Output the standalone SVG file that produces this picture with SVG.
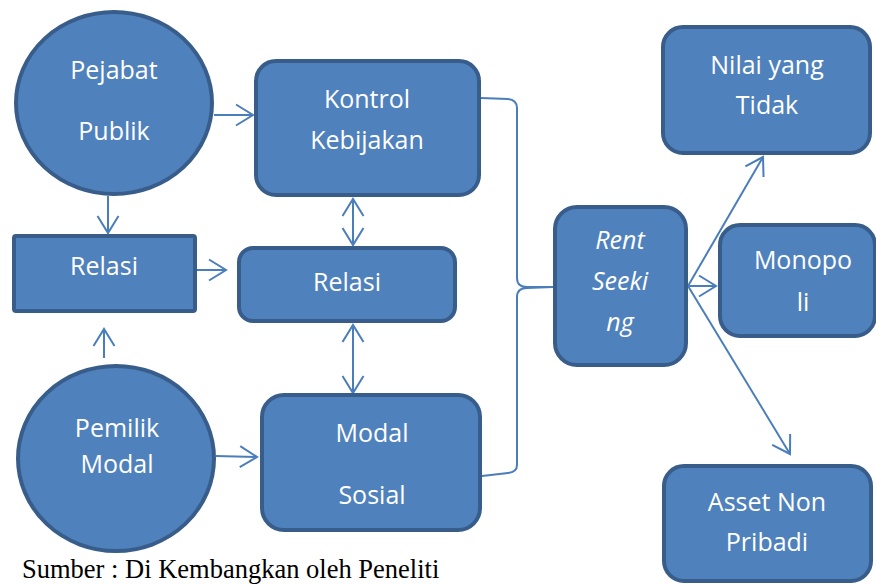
<svg xmlns="http://www.w3.org/2000/svg" width="876" height="585" viewBox="0 0 876 585">
<defs>
<style>
.n{fill:#4F81BD;stroke:#385D8A;stroke-width:4}
.t{fill:#FFFFFF;font-family:"Open Sans","Noto Sans","DejaVu Sans",sans-serif;font-size:25px;text-anchor:middle}
.i{font-style:italic}
.c{fill:none;stroke:#4A7EBB;stroke-width:2}
.cap{fill:#000;font-family:"Liberation Serif","Times New Roman",serif;font-size:26.5px}
</style>
<marker id="ah" markerUnits="userSpaceOnUse" markerWidth="24" markerHeight="24" viewBox="-20 -12 24 24" refX="0" refY="0" orient="auto-start-reverse">
<path d="M-17,-10.5 L0,0 L-17,10.5" fill="none" stroke="#4A7EBB" stroke-width="2"/>
</marker>
</defs>
<rect width="876" height="585" fill="#FFFFFF"/>
<g id="connectors">
<line class="c" x1="214" y1="115" x2="253" y2="115" marker-end="url(#ah)"/>
<line class="c" x1="108" y1="196" x2="108" y2="233" marker-end="url(#ah)"/>
<line class="c" x1="197" y1="270" x2="226" y2="270" marker-end="url(#ah)"/>
<line class="c" x1="104" y1="358" x2="104" y2="329" marker-end="url(#ah)"/>
<line class="c" x1="216" y1="456" x2="257" y2="457" marker-end="url(#ah)"/>
<line class="c" x1="353" y1="199" x2="353" y2="245" marker-start="url(#ah)" marker-end="url(#ah)"/>
<line class="c" x1="353" y1="325" x2="353" y2="393" marker-start="url(#ah)" marker-end="url(#ah)"/>
<path class="c" d="M481,98 L508,99 Q517,100 517,108 L517,278 Q517,287 527,287 L553,287 M553,287 L527,288 Q517,288 517,297 L517,465 Q517,472 508,473 L482,476"/>
<line class="c" x1="688" y1="286" x2="763" y2="157" marker-end="url(#ah)"/>
<line class="c" x1="688" y1="286" x2="716" y2="286" marker-end="url(#ah)"/>
<line class="c" x1="688" y1="286" x2="790" y2="454" marker-end="url(#ah)"/>
</g>
<g id="pejabat-publik">
<ellipse class="n" cx="114" cy="103" rx="98" ry="91"/>
<text class="t" x="114" y="79">Pejabat</text>
<text class="t" x="114" y="140">Publik</text>
</g>
<g id="kontrol-kebijakan">
<rect class="n" x="256" y="61" width="223" height="134" rx="20"/>
<text class="t" x="367" y="108">Kontrol</text>
<text class="t" x="367" y="149">Kebijakan</text>
</g>
<g id="relasi-left">
<rect class="n" x="14" y="236" width="181" height="75" rx="2"/>
<text class="t" x="104" y="275">Relasi</text>
</g>
<g id="relasi-mid">
<rect class="n" x="239" y="248" width="216" height="73" rx="14"/>
<text class="t" x="347" y="291">Relasi</text>
</g>
<g id="pemilik-modal">
<ellipse class="n" cx="116" cy="458.5" rx="98" ry="92.5"/>
<text class="t" x="117" y="437">Pemilik</text>
<text class="t" x="117" y="473">Modal</text>
</g>
<g id="modal-sosial">
<rect class="n" x="262" y="395" width="218" height="135" rx="22"/>
<text class="t" x="372" y="442">Modal</text>
<text class="t" x="372" y="504">Sosial</text>
</g>
<g id="rent-seeking">
<rect class="n" x="555" y="207" width="131" height="158" rx="22"/>
<text class="t i" x="620" y="249">Rent</text>
<text class="t i" x="620" y="290">Seeki</text>
<text class="t i" x="620" y="331">ng</text>
</g>
<g id="nilai-yang-tidak">
<rect class="n" x="663" y="27" width="207" height="126" rx="20"/>
<text class="t" x="767" y="74">Nilai yang</text>
<text class="t" x="767" y="114">Tidak</text>
</g>
<g id="monopoli">
<rect class="n" x="720" y="225" width="155" height="111" rx="20"/>
<text class="t" x="803" y="269">Monopo</text>
<text class="t" x="803" y="311">li</text>
</g>
<g id="asset-non-pribadi">
<rect class="n" x="664" y="466" width="207" height="115" rx="20"/>
<text class="t" x="767" y="511">Asset Non</text>
<text class="t" x="767" y="551">Pribadi</text>
</g>
<text class="cap" x="22" y="578">Sumber : Di Kembangkan oleh Peneliti</text>
</svg>
